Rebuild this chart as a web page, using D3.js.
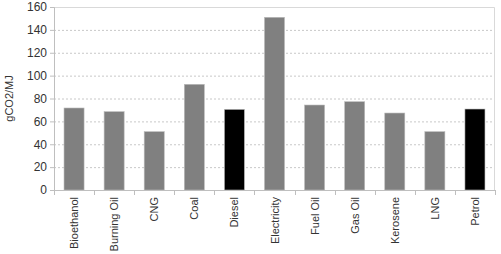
<!DOCTYPE html>
<html>
<head>
<meta charset="utf-8">
<script src="https://cdn.jsdelivr.net/npm/d3@7"></script>
<style>
  body { margin: 0; background: #fff; }
  text { font-family: "Liberation Sans", Arial, sans-serif; }
</style>
</head>
<body>
<div id="wrapper"></div>
<script>
const categories = ['Bioethanol', 'Burning Oil', 'CNG', 'Coal', 'Diesel', 'Electricity',
  'Fuel Oil', 'Gas Oil', 'Kerosene', 'LNG', 'Petrol'];
const values = [71.7, 68.5, 51, 92.4, 70.5, 151, 74.3, 77.2, 67.3, 51, 70.8];
const highlighted = ['Diesel', 'Petrol'];
const yTicks = [0, 20, 40, 60, 80, 100, 120, 140, 160];

const dimensions = {
  width: 501,
  height: 254,
  margin: { top: 7, right: 6, bottom: 64, left: 54 },
};
dimensions.boundedWidth = dimensions.width - dimensions.margin.left - dimensions.margin.right;
dimensions.boundedHeight = dimensions.height - dimensions.margin.top - dimensions.margin.bottom;

const svg = d3.select('#wrapper').append('svg')
  .attr('width', dimensions.width)
  .attr('height', dimensions.height);

const bounds = svg.append('g')
  .attr('transform', `translate(${dimensions.margin.left},${dimensions.margin.top})`);

const xScale = d3.scaleBand()
  .domain(categories)
  .range([0, dimensions.boundedWidth])
  .paddingInner(0.5)
  .paddingOuter(0.25);

const yScale = d3.scaleLinear()
  .domain([0, 160])
  .range([dimensions.boundedHeight, 0]);

// grid lines
bounds.append('g')
  .selectAll('line')
  .data(yTicks.filter(d => d > 0 && d < 160))
  .join('line')
  .attr('x1', 0)
  .attr('x2', dimensions.boundedWidth)
  .attr('y1', d => yScale(d) + 0.5)
  .attr('y2', d => yScale(d) + 0.5)
  .attr('stroke', '#c8c8c8')
  .attr('stroke-dasharray', '2,2');

// plot frame (top & right)
bounds.append('path')
  .attr('d', `M0,0.5H${dimensions.boundedWidth - 0.5}V${dimensions.boundedHeight}`)
  .attr('fill', 'none')
  .attr('stroke', '#d9d9d9');

// bars
bounds.append('g')
  .selectAll('rect')
  .data(categories)
  .join('rect')
  .attr('x', d => xScale(d))
  .attr('width', xScale.bandwidth())
  .attr('y', (d, i) => yScale(values[i]))
  .attr('height', (d, i) => dimensions.boundedHeight - yScale(values[i]))
  .attr('fill', d => highlighted.includes(d) ? '#000' : '#808080')
  .attr('stroke', '#bbbbbb')
  .attr('stroke-width', 0.6);

// y axis
const yAxis = bounds.append('g')
  .call(d3.axisLeft(yScale).tickValues(yTicks).tickSize(4).tickPadding(3))
  .call(g => g.select('.domain').attr('stroke', '#bfbfbf').attr('d', `M-4,0.5H0.5V${dimensions.boundedHeight}`));
yAxis.selectAll('.tick line').attr('stroke', '#bfbfbf');
yAxis.selectAll('.tick text')
  .attr('fill', '#333')
  .style('font-size', '12px')
  .style('font-family', '"Liberation Sans", Arial, sans-serif');

// x axis
const step = xScale.step();
const xAxis = bounds.append('g')
  .attr('transform', `translate(0,${dimensions.boundedHeight})`);
xAxis.append('line')
  .attr('x1', -4).attr('x2', dimensions.boundedWidth)
  .attr('y1', 0.5).attr('y2', 0.5)
  .attr('stroke', '#bfbfbf');
xAxis.selectAll('.sep')
  .data(d3.range(categories.length + 1))
  .join('line')
  .attr('class', 'sep')
  .attr('x1', i => Math.round(i * step) + 0.5)
  .attr('x2', i => Math.round(i * step) + 0.5)
  .attr('y1', 0)
  .attr('y2', 5)
  .attr('stroke', '#bfbfbf');
xAxis.selectAll('.lbl')
  .data(categories)
  .join('text')
  .attr('class', 'lbl')
  .attr('transform', d => `translate(${xScale(d) + xScale.bandwidth() / 2 + 4},7) rotate(-90)`)
  .attr('text-anchor', 'end')
  .attr('fill', '#333')
  .style('font-size', '11px')
  .text(d => d);

// y axis title
svg.append('text')
  .attr('transform', `translate(13,${dimensions.margin.top + dimensions.boundedHeight / 2}) rotate(-90)`)
  .attr('text-anchor', 'middle')
  .attr('fill', '#333')
  .style('font-size', '11px')
  .text('gCO2/MJ');
</script>
</body>
</html>
